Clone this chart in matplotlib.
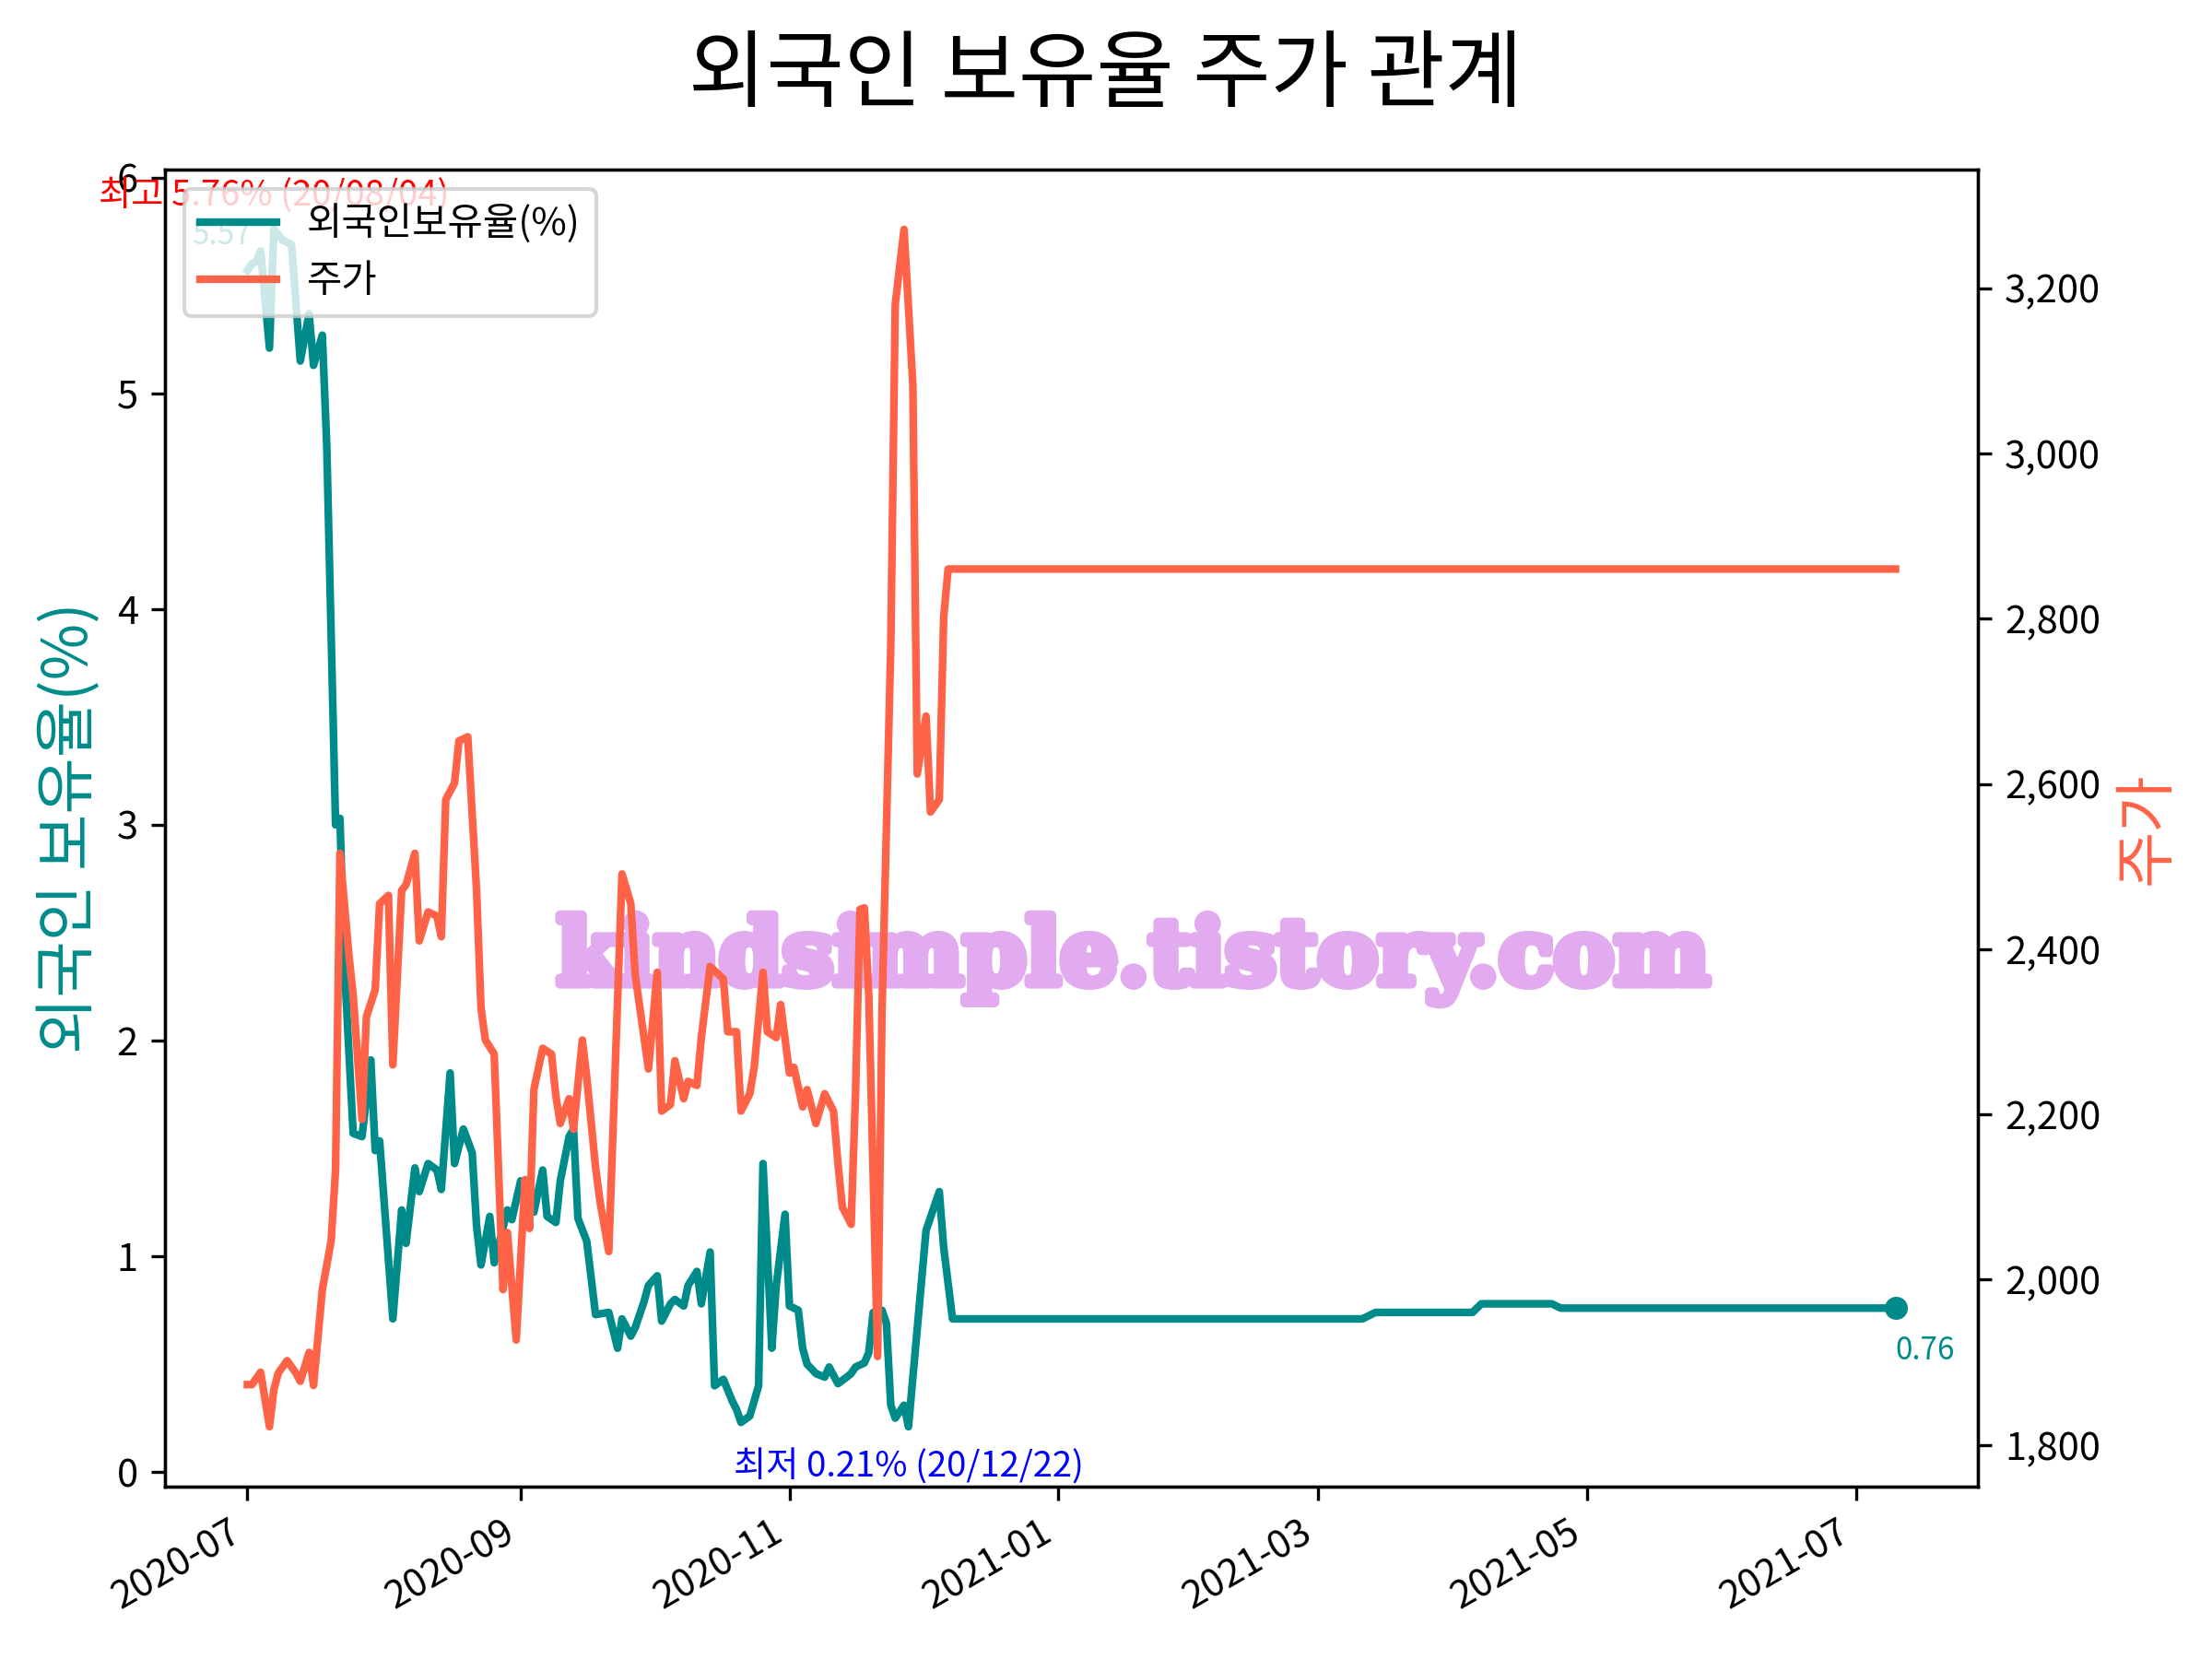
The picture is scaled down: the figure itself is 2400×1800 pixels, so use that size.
import pandas as pd
import matplotlib
matplotlib.use('Agg')
import matplotlib.pyplot as plt
import matplotlib.patheffects as pe
from matplotlib.ticker import FuncFormatter

plt.rcParams['font.family'] = ['Noto Sans CJK KR', 'DejaVu Sans']
plt.rcParams['axes.unicode_minus'] = False

# 외국인 보유율(%)
hold_dates = ['2020-07-01', '2020-07-02', '2020-07-03', '2020-07-04', '2020-07-06', '2020-07-07',
              '2020-07-09', '2020-07-11', '2020-07-13', '2020-07-15', '2020-07-16', '2020-07-18',
              '2020-07-19', '2020-07-21', '2020-07-22', '2020-07-23', '2020-07-25', '2020-07-27',
              '2020-07-29', '2020-07-30', '2020-07-31', '2020-08-03', '2020-08-05', '2020-08-06',
              '2020-08-08', '2020-08-09', '2020-08-11', '2020-08-13', '2020-08-14', '2020-08-16',
              '2020-08-17', '2020-08-19', '2020-08-21', '2020-08-22', '2020-08-23', '2020-08-25',
              '2020-08-26', '2020-08-29', '2020-08-30', '2020-09-01', '2020-09-03', '2020-09-04',
              '2020-09-06', '2020-09-07', '2020-09-09', '2020-09-10', '2020-09-12', '2020-09-13',
              '2020-09-14', '2020-09-16', '2020-09-18', '2020-09-21', '2020-09-23', '2020-09-24',
              '2020-09-26', '2020-09-27', '2020-09-29', '2020-09-30', '2020-10-02', '2020-10-03',
              '2020-10-05', '2020-10-06', '2020-10-08', '2020-10-09', '2020-10-11', '2020-10-12',
              '2020-10-14', '2020-10-15', '2020-10-17', '2020-10-19', '2020-10-20', '2020-10-21',
              '2020-10-23', '2020-10-25', '2020-10-26', '2020-10-28', '2020-10-29', '2020-10-31',
              '2020-11-01', '2020-11-03', '2020-11-04', '2020-11-05', '2020-11-07', '2020-11-09',
              '2020-11-10', '2020-11-12', '2020-11-14', '2020-11-15', '2020-11-16', '2020-11-18',
              '2020-11-19', '2020-11-20', '2020-11-22', '2020-11-23', '2020-11-24', '2020-11-25',
              '2020-11-27', '2020-11-28', '2020-12-02', '2020-12-05', '2020-12-06', '2020-12-08',
              '2021-03-11', '2021-03-14', '2021-04-05', '2021-04-07', '2021-04-23', '2021-04-25',
              '2021-07-10']
hold_rate = [5.57, 5.60, 5.61, 5.66, 5.21, 5.76, 5.71, 5.69, 5.15, 5.37, 5.13, 5.27,
             4.76, 3.00, 3.03, 2.35, 1.57, 1.555, 1.91, 1.49, 1.535, 0.71, 1.215, 1.06,
             1.41, 1.30, 1.43, 1.40, 1.31, 1.85, 1.43, 1.59, 1.48, 1.14, 0.96, 1.185,
             0.97, 1.215, 1.17, 1.35, 1.215, 1.205, 1.40, 1.185, 1.157, 1.35, 1.555, 1.59,
             1.176, 1.07, 0.73, 0.74, 0.574, 0.71, 0.63, 0.67, 0.79, 0.865, 0.91, 0.70,
             0.78, 0.80, 0.77, 0.865, 0.93, 0.78, 1.02, 0.40, 0.43, 0.33, 0.29, 0.23,
             0.26, 0.40, 1.43, 0.574, 0.865, 1.195, 0.77, 0.75, 0.574, 0.50, 0.457, 0.44,
             0.487, 0.41, 0.44, 0.457, 0.487, 0.506, 0.554, 0.74, 0.75, 0.69, 0.31, 0.25,
             0.31, 0.21, 1.12, 1.30, 1.04, 0.71, 0.71, 0.74, 0.74, 0.78, 0.78, 0.76,
             0.76]

# 주가
price_dates = ['2020-07-01', '2020-07-02', '2020-07-04', '2020-07-06', '2020-07-07', '2020-07-08',
               '2020-07-10', '2020-07-12', '2020-07-13', '2020-07-15', '2020-07-16', '2020-07-18',
               '2020-07-20', '2020-07-21', '2020-07-22', '2020-07-24', '2020-07-25', '2020-07-27',
               '2020-07-28', '2020-07-30', '2020-07-31', '2020-08-02', '2020-08-03', '2020-08-05',
               '2020-08-06', '2020-08-08', '2020-08-09', '2020-08-11', '2020-08-13', '2020-08-14',
               '2020-08-15', '2020-08-17', '2020-08-18', '2020-08-20', '2020-08-22', '2020-08-23',
               '2020-08-24', '2020-08-26', '2020-08-28', '2020-08-29', '2020-08-31', '2020-09-02',
               '2020-09-03', '2020-09-04', '2020-09-06', '2020-09-08', '2020-09-09', '2020-09-10',
               '2020-09-12', '2020-09-13', '2020-09-15', '2020-09-16', '2020-09-18', '2020-09-19',
               '2020-09-21', '2020-09-24', '2020-09-26', '2020-09-27', '2020-09-30', '2020-10-02',
               '2020-10-03', '2020-10-05', '2020-10-06', '2020-10-08', '2020-10-09', '2020-10-11',
               '2020-10-12', '2020-10-14', '2020-10-17', '2020-10-18', '2020-10-20', '2020-10-21',
               '2020-10-23', '2020-10-24', '2020-10-26', '2020-10-27', '2020-10-29', '2020-10-30',
               '2020-11-01', '2020-11-02', '2020-11-04', '2020-11-05', '2020-11-07', '2020-11-09',
               '2020-11-11', '2020-11-12', '2020-11-13', '2020-11-15', '2020-11-16', '2020-11-17',
               '2020-11-18', '2020-11-19', '2020-11-21', '2020-11-22', '2020-11-24', '2020-11-25',
               '2020-11-27', '2020-11-29', '2020-11-30', '2020-12-02', '2020-12-03', '2020-12-05',
               '2020-12-06', '2020-12-07', '2021-07-10']
price = [1873, 1873, 1888, 1822, 1867, 1887, 1902, 1887, 1877, 1912, 1872, 1988,
         2047, 2133, 2516, 2394, 2344, 2194, 2318, 2351, 2455, 2465, 2260, 2471,
         2478, 2516, 2410, 2445, 2440, 2415, 2581, 2601, 2652, 2657, 2471, 2329,
         2290, 2273, 1988, 2057, 1927, 2121, 2062, 2230, 2280, 2273, 2222, 2189,
         2219, 2182, 2290, 2245, 2136, 2095, 2034, 2491, 2455, 2369, 2255, 2372,
         2204, 2212, 2265, 2219, 2240, 2235, 2293, 2379, 2364, 2300, 2300, 2204,
         2225, 2257, 2372, 2300, 2293, 2333, 2250, 2257, 2209, 2230, 2189, 2225,
         2204, 2141, 2088, 2067, 2227, 2448, 2450, 2344, 1907, 2324, 2769, 3180,
         3271, 3083, 2612, 2682, 2566, 2581, 2802, 2860, 2860]

hold_x = pd.to_datetime(hold_dates)
price_x = pd.to_datetime(price_dates)

fig, ax1 = plt.subplots(figsize=(8, 6), dpi=300)
ax2 = ax1.twinx()

l1, = ax1.plot(hold_x, hold_rate, color='darkcyan', lw=2, label='외국인보유율(%)')
l2, = ax2.plot(price_x, price, color='tomato', lw=2, label='주가')

# 처음 / 마지막 값 표시
ax1.plot(hold_x[-1], hold_rate[-1], 'o', color='darkcyan', ms=5)
ax1.annotate(f'{hold_rate[-1]:.2f}', (hold_x[-1], hold_rate[-1]), xytext=(0, -7),
             textcoords='offset points', ha='left', va='top', fontsize=8, color='darkcyan')
ax1.annotate(f'{hold_rate[0]:.2f}', (hold_x[0], hold_rate[0]), xytext=(1, 5),
             textcoords='offset points', ha='right', va='bottom', fontsize=8, color='darkcyan')

# 최고 / 최저
i_max = hold_rate.index(max(hold_rate))
i_min = hold_rate.index(min(hold_rate))
ax1.annotate('최고 5.76% (20/08/04)', (hold_x[i_max], hold_rate[i_max]), xytext=(0, 4),
             textcoords='offset points', ha='center', va='bottom', fontsize=9.2, color='red')
ax1.annotate('최저 0.21% (20/12/22)', (hold_x[i_min], hold_rate[i_min]), xytext=(0, -6),
             textcoords='offset points', ha='center', va='top', fontsize=9.2, color='blue')

ax1.text(0.534, 0.40, 'kindsimple.tistory.com', transform=ax1.transAxes,
         ha='center', va='center', fontsize=23.5, fontweight='bold',
         family='DejaVu Serif', color='#E2AAEF',
         path_effects=[pe.withStroke(linewidth=2.5, foreground='#E2AAEF')])

ax1.set_ylabel('외국인 보유율(%)', color='darkcyan', fontsize=16)
ax2.set_ylabel('주가', color='tomato', fontsize=16)
ax2.yaxis.set_major_formatter(FuncFormatter(lambda v, p: f'{v:,.0f}'))

ax2.legend(handles=[l1, l2], loc='upper left', fontsize=10)

fig.suptitle('외국인 보유율 주가 관계', fontsize=22)
fig.autofmt_xdate()
fig.subplots_adjust(left=0.0746, right=0.8942, top=0.8978, bottom=0.1039)

plt.savefig('out.png')
